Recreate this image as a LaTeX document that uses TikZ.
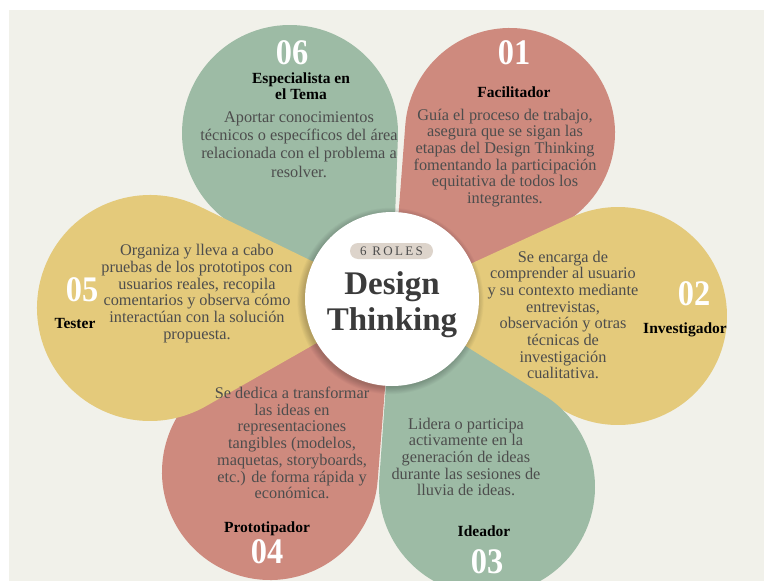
\documentclass[tikz,border=0pt]{standalone}
\usepackage{fontspec}
\setmainfont{Liberation Serif}
\newfontfamily\numfont[FakeStretch=0.9]{Liberation Serif}
\newfontfamily\spacedfont[LetterSpace=18]{Liberation Serif}
\usetikzlibrary{calc}

\definecolor{cream}{HTML}{F1F1EA}
\definecolor{petalgreen}{HTML}{9DBBA5}
\definecolor{petalred}{HTML}{CE8A7E}
\definecolor{petalyellow}{HTML}{E4CA7B}
\definecolor{bodygray}{HTML}{4D4D4D}
\definecolor{pillgray}{HTML}{DDD4CB}
\definecolor{headgray}{HTML}{3B3B3B}

% Teardrop petal: round end centred at (#1,#2) with radius #3,
% tapering along the two tangents to the hub centre (ctr).
\newcommand\petal[4]{%
  \pgfmathsetmacro\ptphi{atan2(#2-300,#1-392)}%
  \pgfmathsetmacro\ptdist{veclen(#1-392,#2-300)}%
  \pgfmathsetmacro\ptalpha{asin(#3/\ptdist)}%
  \pgfmathsetmacro\ptstart{\ptphi+90+\ptalpha}%
  \pgfmathsetmacro\ptend{\ptphi-90-\ptalpha}%
  \fill[#4] (ctr) -- ($(#1,#2)+(\ptstart:#3)$)
    arc[start angle=\ptstart, end angle=\ptend, radius=#3] -- cycle;
}

\tikzset{
  body/.style={text=bodygray, align=center, inner sep=0pt,
    font=\fontsize{16.3}{16.7}\selectfont},
  rolename/.style={text=black, align=center, inner sep=0pt,
    font=\fontsize{15.5}{15.5}\selectfont\bfseries},
  rolenum/.style={text=white, inner sep=0pt,
    font=\numfont\fontsize{36}{36}\selectfont\bfseries},
}

\begin{document}
\begin{tikzpicture}[x=1pt,y=-1pt]
  \useasboundingbox (0,0) rectangle (764,581);
  \fill[white] (0,0) rectangle (764,581);
  \fill[cream] (9,10) rectangle (764,581);
  \coordinate (ctr) at (392,300);

  % petals, back to front
  \petal{290}{133}{108}{petalgreen}
  \petal{510}{133}{105}{petalred}
  \petal{618}{316}{109}{petalyellow}
  \petal{487}{487}{108}{petalgreen}
  \petal{270}{472}{108}{petalred}
  \petal{150}{308}{113}{petalyellow}

  % soft shadow under the hub
  \foreach \k in {1,...,9}
    \fill[black, opacity=0.022] (390.5,301) circle[radius=86+0.8*\k];

  % hub
  \node[circle, fill=white, minimum size=174pt, inner sep=0pt] (hub) at (392,299) {};
  \node[fill=pillgray, rounded corners=8pt, minimum width=83pt,
    minimum height=16pt, inner sep=0pt, text=bodygray,
    font=\spacedfont\fontsize{13}{13}\selectfont] (pill) at (391.5,251) {6 ROLES};
  \node[align=center, inner sep=0pt, text=headgray,
    font=\fontsize{33}{36}\selectfont\bfseries] (hubtitle) at (392,305)
    {Design\\Thinking};

  % 06
  \node[rolenum] (n06) at (292,53) {06};
  \node[rolename] (r06) at (301,86) {Especialista en\\el Tema};
  \node[body, font=\fontsize{16.3}{18.3}\selectfont] (b06) at (299,144.5)
    {Aportar conocimientos\\técnicos o específicos del área\\relacionada con el problema a\\resolver.};

  % 01
  \node[rolenum] (n01) at (514,53) {01};
  \node[rolename] (r01) at (514,92) {Facilitador};
  \node[body] (b01) at (505,158)
    {Guía el proceso de trabajo,\\asegura que se sigan las\\etapas del Design Thinking\\fomentando la participación\\equitativa de todos los\\integrantes.};

  % 02
  \node[rolenum] (n02) at (694,294) {02};
  \node[rolename] (r02) at (685,330) {Investigador};
  \node[body] (b02) at (563,315)
    {Se encarga de\\comprender al usuario\\y su contexto mediante\\entrevistas,\\observación y otras\\técnicas de\\investigación\\cualitativa.};

  % 03
  \node[body] (b03) at (466,457)
    {Lidera o participa\\activamente en la\\generación de ideas\\durante las sesiones de\\lluvia de ideas.};
  \node[rolename] (r03) at (484,531) {Ideador};
  \node[rolenum] (n03) at (487,562) {03};

  % 04
  \node[body] (b04) at (292,443)
    {Se dedica a transformar\\las ideas en\\representaciones\\tangibles (modelos,\\maquetas, storyboards,\\etc.) de forma rápida y\\económica.};
  \node[rolename] (r04) at (267,529) {Prototipador};
  \node[rolenum] (n04) at (267,552) {04};

  % 05
  \node[rolenum] (n05) at (82,290) {05};
  \node[rolename] (r05) at (75,323) {Tester};
  \node[body] (b05) at (197,293.5)
    {Organiza y lleva a cabo\\pruebas de los prototipos con\\usuarios reales, recopila\\comentarios y observa cómo\\interactúan con la solución\\propuesta.};
\end{tikzpicture}
\end{document}
